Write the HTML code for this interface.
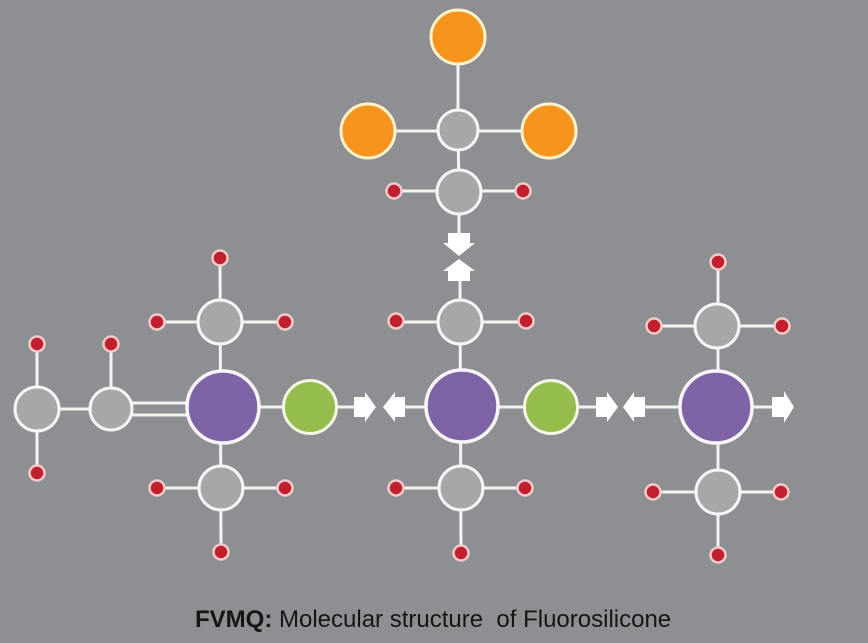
<!DOCTYPE html>
<html>
<head>
<meta charset="utf-8">
<style>
html,body{margin:0;padding:0;background:#8e8f93;}
svg{display:block;}
</style>
</head>
<body>
<svg width="868" height="643" viewBox="0 0 868 643" xmlns="http://www.w3.org/2000/svg">
<rect x="0" y="0" width="868" height="643" fill="#8e8f93"/>
<g stroke="#f3f3f3" stroke-width="3" fill="none">
  <!-- top cluster -->
  <line x1="458" y1="37" x2="458" y2="130"/>
  <line x1="368" y1="131" x2="549" y2="131"/>
  <line x1="458" y1="130" x2="459" y2="192"/>
  <line x1="394" y1="191" x2="523" y2="191"/>
  <line x1="459" y1="192" x2="459" y2="234"/>
  <!-- middle column -->
  <line x1="460" y1="280" x2="461" y2="553"/>
  <line x1="396" y1="322" x2="526" y2="322"/>
  <line x1="396" y1="488" x2="525" y2="488"/>
  <line x1="404" y1="407" x2="596" y2="407"/>
  <!-- left column -->
  <line x1="220" y1="258" x2="221" y2="552"/>
  <line x1="157" y1="322" x2="285" y2="322"/>
  <line x1="157" y1="488" x2="285" y2="488"/>
  <line x1="223" y1="407" x2="355" y2="407"/>
  <line x1="37" y1="409" x2="111" y2="409"/>
  <line x1="37" y1="344" x2="37" y2="473"/>
  <line x1="111" y1="344" x2="111" y2="409"/>
  <line x1="130" y1="403" x2="188" y2="403"/>
  <line x1="130" y1="415" x2="188" y2="415"/>
  <!-- right column -->
  <line x1="718" y1="262" x2="718" y2="555"/>
  <line x1="654" y1="326" x2="782" y2="326"/>
  <line x1="653" y1="492" x2="781" y2="492"/>
  <line x1="644" y1="407" x2="680" y2="407"/>
  <line x1="716" y1="407" x2="773" y2="407"/>
</g>

<!-- arrows -->
<g fill="#ffffff">
  <!-- vertical down -->
  <polygon points="448,233 470,233 470,243 475,243 459,256 443,243 448,243"/>
  <!-- vertical up -->
  <polygon points="459,259 475,271 470,271 470,281 448,281 448,271 443,271"/>
  <!-- left pair -->
  <polygon points="354,397 365,397 365,392 376,407 365,422 365,417 354,417"/>
  <polygon points="383,407 395,392 395,397 405,397 405,417 395,417 395,422"/>
  <!-- right pair -->
  <polygon points="596,397 607,397 607,392 618,407 607,422 607,417 596,417"/>
  <polygon points="623,407 634,392 634,397 645,397 645,417 634,417 634,422"/>
  <!-- far right -->
  <polygon points="772,397 784,397 784,391 794,407 784,423 784,417 772,417"/>
</g>

<!-- orange -->
<g fill="#f7941e" stroke="#fff3cc" stroke-width="3">
  <circle cx="458" cy="37" r="27"/>
  <circle cx="368" cy="131" r="27"/>
  <circle cx="549" cy="131" r="27"/>
</g>

<!-- gray -->
<g fill="#a6a7a9" stroke="#f6f6f6" stroke-width="3">
  <circle cx="458" cy="130" r="20"/>
  <circle cx="459" cy="192" r="22"/>
  <circle cx="460" cy="322" r="22"/>
  <circle cx="461" cy="488" r="22"/>
  <circle cx="220" cy="322" r="22"/>
  <circle cx="221" cy="488" r="22"/>
  <circle cx="37" cy="409" r="22"/>
  <circle cx="111" cy="409" r="21"/>
  <circle cx="717" cy="326" r="22"/>
  <circle cx="718" cy="492" r="22"/>
</g>

<!-- purple -->
<g fill="#7e63a7" stroke="#fbf6fb" stroke-width="3.5">
  <circle cx="462" cy="406" r="36"/>
  <circle cx="223" cy="407" r="36"/>
  <circle cx="716" cy="407" r="36"/>
</g>

<!-- green -->
<g fill="#95bd4e" stroke="#f4f8e4" stroke-width="3">
  <circle cx="310" cy="407" r="26.5"/>
  <circle cx="551" cy="407" r="26.5"/>
</g>

<!-- red -->
<g fill="#c1202f" stroke="#f4caca" stroke-width="2.5">
  <circle cx="394" cy="191" r="7.5"/>
  <circle cx="523" cy="191" r="7.5"/>
  <circle cx="396" cy="321" r="7.5"/>
  <circle cx="526" cy="321" r="7.5"/>
  <circle cx="396" cy="488" r="7.5"/>
  <circle cx="525" cy="488" r="7.5"/>
  <circle cx="461" cy="553" r="7.5"/>
  <circle cx="220" cy="258" r="7.5"/>
  <circle cx="157" cy="322" r="7.5"/>
  <circle cx="285" cy="322" r="7.5"/>
  <circle cx="157" cy="488" r="7.5"/>
  <circle cx="285" cy="488" r="7.5"/>
  <circle cx="221" cy="552" r="7.5"/>
  <circle cx="37" cy="344" r="7.5"/>
  <circle cx="111" cy="344" r="7.5"/>
  <circle cx="37" cy="473" r="7.5"/>
  <circle cx="718" cy="262" r="7.5"/>
  <circle cx="654" cy="326" r="7.5"/>
  <circle cx="782" cy="326" r="7.5"/>
  <circle cx="653" cy="492" r="7.5"/>
  <circle cx="781" cy="492" r="7.5"/>
  <circle cx="718" cy="555" r="7.5"/>
</g>

<text x="195" y="627" font-family="Liberation Sans, Arial, sans-serif" font-size="24" fill="#161616" xml:space="preserve"><tspan font-weight="bold">FVMQ:</tspan> Molecular structure  of Fluorosilicone</text>
</svg>
</body>
</html>
